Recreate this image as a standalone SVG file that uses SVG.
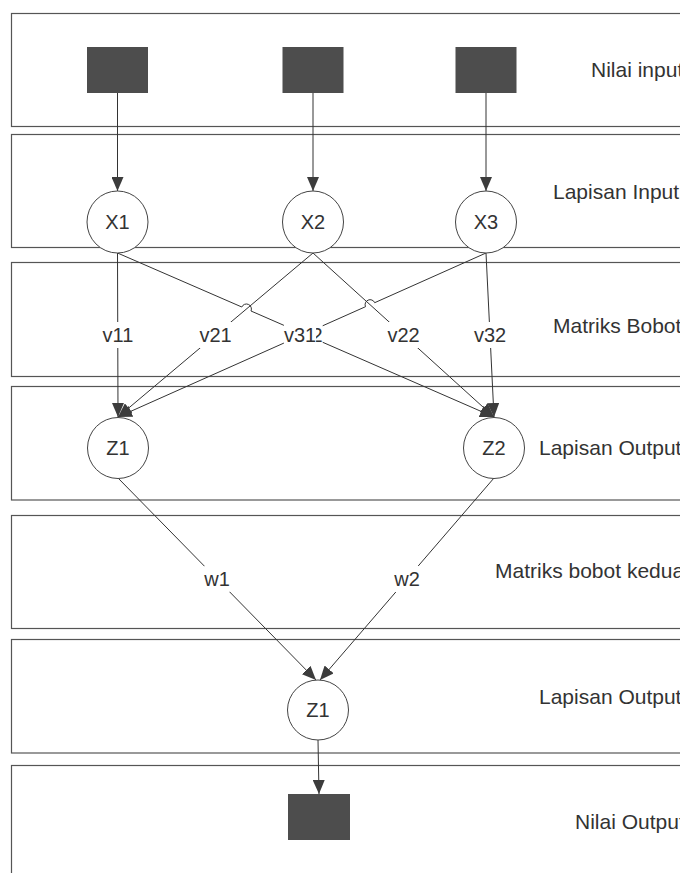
<svg xmlns="http://www.w3.org/2000/svg" width="680" height="873" viewBox="0 0 680 873">
  <style>
    .lane { fill: none; stroke: #555; stroke-width: 1.2; }
    .lane-label { font-family: "Liberation Sans", Arial, sans-serif; font-size: 21px; fill: #333; }
    .unit { fill: #fff; stroke: #444; stroke-width: 1; }
    .block { fill: #4d4d4d; }
    .node-label { font-family: "Liberation Sans", Arial, sans-serif; font-size: 20px; fill: #333; text-anchor: middle; }
    .edge { fill: none; stroke: #333; stroke-width: 1; }
    .tag-bg { fill: #fff; }
    .tag { font-family: "Liberation Sans", Arial, sans-serif; font-size: 20px; fill: #333; text-anchor: middle; }
  </style>
  <defs>
    <marker id="arrow" markerUnits="userSpaceOnUse" markerWidth="14" markerHeight="12" refX="14" refY="6" orient="auto">
      <path d="M0,0 L14,6 L0,12 z" fill="#3c3c3c"/>
    </marker>
  </defs>

  <rect width="680" height="873" fill="#fff"/>

  <!-- layer bands -->
  <g id="lanes">
    <rect class="lane" x="11.5" y="13.5" width="700" height="113"/>
    <rect class="lane" x="11.5" y="134.5" width="700" height="113"/>
    <rect class="lane" x="11.5" y="262.5" width="700" height="114"/>
    <rect class="lane" x="11.5" y="386.5" width="700" height="113.5"/>
    <rect class="lane" x="11.5" y="515.5" width="700" height="113"/>
    <rect class="lane" x="11.5" y="639.5" width="700" height="113.5"/>
    <rect class="lane" x="11.5" y="765.5" width="700" height="200"/>
  </g>

  <g id="lane-labels">
    <text class="lane-label" x="591" y="77">Nilai input</text>
    <text class="lane-label" x="553" y="199">Lapisan Input</text>
    <text class="lane-label" x="553" y="333">Matriks Bobot</text>
    <text class="lane-label" x="539" y="455">Lapisan Output</text>
    <text class="lane-label" x="495" y="578">Matriks bobot kedua</text>
    <text class="lane-label" x="539" y="704">Lapisan Output</text>
    <text class="lane-label" x="575" y="829">Nilai Output</text>
  </g>

  <!-- connectors -->
  <g id="connectors">
    <path class="edge" d="M117.5,93 L117.5,191" marker-end="url(#arrow)"/>
    <path class="edge" d="M313,93 L313,191" marker-end="url(#arrow)"/>
    <path class="edge" d="M486,93 L486,191" marker-end="url(#arrow)"/>

    <path class="edge" d="M117.5,253 L118,417" marker-end="url(#arrow)"/>
    <path class="edge" d="M313,253 L118,417" marker-end="url(#arrow)"/>
    <path class="edge" d="M313,253 L494,417" marker-end="url(#arrow)"/>
    <path class="edge" d="M486,253 L494,417" marker-end="url(#arrow)"/>
    <path class="edge" d="M117.5,253 L241.8,307 A5,5 0 0 1 251,311 L494,417" marker-end="url(#arrow)"/>
    <path class="edge" d="M486,253 L374.7,302.7 A5,5 0 0 0 365.5,306.7 L118,417" marker-end="url(#arrow)"/>

    <path class="edge" d="M118,478 L316,680" marker-end="url(#arrow)"/>
    <path class="edge" d="M494,478 L320,680" marker-end="url(#arrow)"/>

    <path class="edge" d="M318,740 L319,794" marker-end="url(#arrow)"/>

    <!-- weight tags -->
    <rect class="tag-bg" x="101.9" y="322" width="32.2" height="26"/>
    <text class="tag" x="118" y="342">v11</text>
    <rect class="tag-bg" x="199.4" y="322" width="32.2" height="26"/>
    <text class="tag" x="215.5" y="342">v21</text>
    <rect class="tag-bg" x="290.5" y="322" width="32.2" height="26"/>
    <text class="tag" x="306.6" y="342">v12</text>
    <rect class="tag-bg" x="283.9" y="322" width="32.2" height="26"/>
    <text class="tag" x="300" y="342">v31</text>
    <rect class="tag-bg" x="387.4" y="322" width="32.2" height="26"/>
    <text class="tag" x="403.5" y="342">v22</text>
    <rect class="tag-bg" x="473.9" y="322" width="32.2" height="26"/>
    <text class="tag" x="490" y="342">v32</text>

    <rect class="tag-bg" x="204.2" y="566" width="25.6" height="26"/>
    <text class="tag" x="217" y="586">w1</text>
    <rect class="tag-bg" x="394.2" y="566" width="25.6" height="26"/>
    <text class="tag" x="407" y="586">w2</text>
  </g>

  <!-- input values -->
  <g id="in1"><rect class="block" x="87" y="47" width="61" height="46"/></g>
  <g id="in2"><rect class="block" x="282.5" y="47" width="61" height="46"/></g>
  <g id="in3"><rect class="block" x="455.5" y="47" width="61" height="46"/></g>

  <!-- input layer -->
  <g id="x1"><ellipse class="unit" cx="117.5" cy="222" rx="30.5" ry="31"/><text class="node-label" x="117.5" y="229">X1</text></g>
  <g id="x2"><ellipse class="unit" cx="313" cy="222" rx="30.5" ry="31"/><text class="node-label" x="313" y="229">X2</text></g>
  <g id="x3"><ellipse class="unit" cx="486" cy="222" rx="30.5" ry="31"/><text class="node-label" x="486" y="229">X3</text></g>

  <!-- hidden layer -->
  <g id="z1"><ellipse class="unit" cx="118" cy="448" rx="30.5" ry="30.5"/><text class="node-label" x="118" y="455">Z1</text></g>
  <g id="z2"><ellipse class="unit" cx="494" cy="448" rx="30.5" ry="30.5"/><text class="node-label" x="494" y="455">Z2</text></g>

  <!-- output layer -->
  <g id="zout"><ellipse class="unit" cx="318" cy="710" rx="30.5" ry="30"/><text class="node-label" x="318" y="717">Z1</text></g>

  <!-- output value -->
  <g id="out"><rect class="block" x="288" y="794" width="62" height="46"/></g>
</svg>
